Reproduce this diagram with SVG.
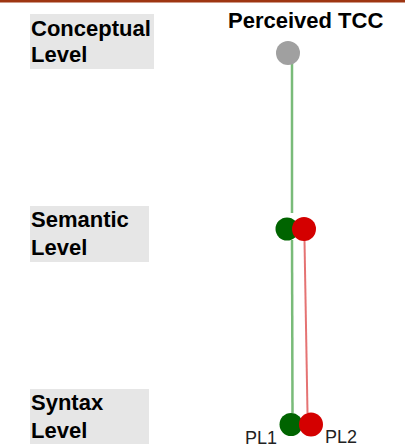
<svg xmlns="http://www.w3.org/2000/svg" width="405" height="448" viewBox="0 0 405 448">
<style>
.box{fill:#e6e6e6}
.lbl{font-family:"Liberation Sans",Arial,sans-serif;font-weight:bold;font-size:22px;fill:#000}
.pl{font-family:"Liberation Sans",Arial,sans-serif;font-size:18px;fill:#222}
.gl{stroke:#79bb79;stroke-width:2.5;fill:none}
.rl{stroke:#e57373;stroke-width:2;fill:none}
.g{fill:#006400}
.r{fill:#d40000}
</style>
<rect x="0" y="0" width="405" height="2.5" fill="#9e3512"/>
<g id="conceptual-level">
<rect class="box" x="30" y="14" width="124" height="55"/>
<text class="lbl" x="31" y="36">Conceptual</text>
<text class="lbl" x="31" y="62">Level</text>
</g>
<g id="semantic-level">
<rect class="box" x="30" y="206" width="119" height="56"/>
<text class="lbl" x="31" y="227">Semantic</text>
<text class="lbl" x="31" y="255">Level</text>
</g>
<g id="syntax-level">
<rect class="box" x="30" y="389" width="119" height="55"/>
<text class="lbl" x="31" y="410">Syntax</text>
<text class="lbl" x="31" y="438">Level</text>
</g>
<g id="title">
<text class="lbl" x="228" y="28">Perceived TCC</text>
</g>
<g id="connectors">
<line class="gl" x1="292" y1="62" x2="292" y2="213"/>
<line class="gl" x1="292" y1="240" x2="292.5" y2="413"/>
<line class="rl" x1="304.5" y1="240" x2="307.5" y2="413"/>
</g>
<g id="perceived-tcc">
<circle cx="288" cy="53" r="12" fill="#a0a0a0"/>
</g>
<g id="semantic-pl1"><circle class="g" cx="287" cy="229" r="11.5"/></g>
<g id="semantic-pl2"><circle class="r" cx="304" cy="229" r="12"/></g>
<g id="syntax-pl1"><circle class="g" cx="291" cy="424.5" r="11.5"/><text class="pl" x="245" y="443.5">PL1</text></g>
<g id="syntax-pl2"><circle class="r" cx="311" cy="424.5" r="12"/><text class="pl" x="325" y="443">PL2</text></g>
</svg>
